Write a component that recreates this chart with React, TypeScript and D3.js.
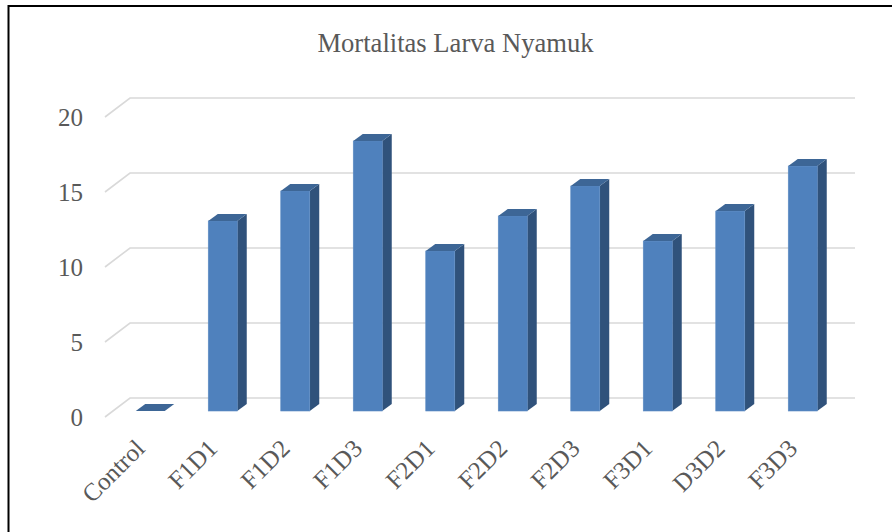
import React from "react";
import * as d3 from "d3";

const categories = ["Control", "F1D1", "F1D2", "F1D3", "F2D1", "F2D2", "F2D3", "F3D1", "D3D2", "F3D3"];
const values = [0, 12.67, 14.67, 18, 10.67, 13, 15, 11.33, 13.33, 16.33];
const yTicks = [0, 5, 10, 15, 20];
const title = "Mortalitas Larva Nyamuk";

const W = 892;
const H = 532;
const FONT = '"Liberation Serif", "Times New Roman", Times, serif';
const TEXT = "#595959";
const GRID = "#d9d9d9";
const FRONT = "#4f81bd";
const SIDE = "#30527b";
const TOP = "#3d6696";

// oblique 3D parameters
const depthDx = 9.5;
const depthDy = -7;
const gridFrontX = 105;
const gridBackX = 130;
const gridRightX = 855;
const gridFrontOff = 6; // front end relative to bar-front baseline
const gridBackOff = -13; // back plane relative to bar-front baseline

export default function App() {
  const x = d3
    .scaleBand<string>()
    .domain(categories)
    .range([114, 839])
    .paddingInner(0.6)
    .paddingOuter(0.3);
  const y = d3.scaleLinear().domain([0, 20]).range([411, 111]);
  const bw = x.bandwidth();

  return (
    <svg
      width={W}
      height={H}
      style={{ position: "absolute", left: 0, top: 0, background: "#fff" }}
    >
      <rect x={0} y={0} width={W} height={H} fill="#fff" />
      <rect x={8.5} y={6} width={W + 20} height={H + 20} fill="none" stroke="#000" strokeWidth={2} />
      <text x={455.5} y={52} textAnchor="middle" fontSize={26.6} fill={TEXT} style={{ fontFamily: FONT }}>
        {title}
      </text>

      {/* gridlines */}
      {yTicks.map((t) => {
        const yb = y(t) + gridBackOff;
        const yf = y(t) + gridFrontOff;
        return (
          <g key={t}>
            <polyline
              points={`${gridFrontX},${yf} ${gridBackX},${yb} ${gridRightX},${yb}`}
              fill="none"
              stroke={GRID}
              strokeWidth={1.6}
            />
            <text
              x={83}
              y={yf}
              dy="0.35em"
              textAnchor="end"
              fontSize={25}
              fill={TEXT}
              style={{ fontFamily: FONT }}
            >
              {t}
            </text>
          </g>
        );
      })}

      {/* bars */}
      {categories.map((c, i) => {
        const x0 = x(c) as number;
        const x1 = x0 + bw;
        const yb = y(0);
        const yt = y(values[i]);
        const top = `${x0},${yt} ${x1},${yt} ${x1 + depthDx},${yt + depthDy} ${x0 + depthDx},${yt + depthDy}`;
        const side = `${x1},${yt} ${x1 + depthDx},${yt + depthDy} ${x1 + depthDx},${yb + depthDy} ${x1},${yb}`;
        return (
          <g key={c}>
            {values[i] > 0 && (
              <>
                <polygon points={side} fill={SIDE} />
                <rect x={x0} y={yt} width={bw} height={yb - yt} fill={FRONT} stroke="#5b8ac4" strokeWidth={0.6} />
              </>
            )}
            <polygon points={top} fill={TOP} />
          </g>
        );
      })}

      {/* category labels */}
      {categories.map((c) => {
        const cx = (x(c) as number) + bw / 2;
        return (
          <text
            key={c}
            transform={`translate(${cx - 4},${450}) rotate(-45)`}
            textAnchor="end"
            fontSize={25}
            fill={TEXT}
            style={{ fontFamily: FONT }}
          >
            {c}
          </text>
        );
      })}
    </svg>
  );
}
